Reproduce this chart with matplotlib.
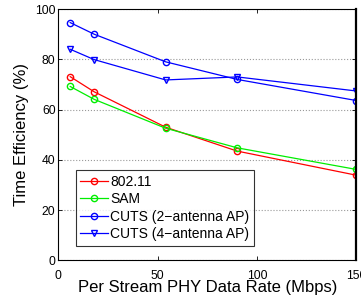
import matplotlib
matplotlib.use('Agg')
import matplotlib.pyplot as plt

rates = [6, 18, 54, 90, 150]
eff_80211 = [73.1, 67.1, 53.0, 43.5, 33.9]
eff_sam = [69.2, 64.1, 52.6, 44.8, 36.2]
eff_cuts2 = [94.6, 90.0, 79.0, 72.0, 63.6]
eff_cuts4 = [84.0, 79.9, 71.8, 73.0, 67.4]

plt.rcParams['font.family'] = ['Liberation Sans', 'DejaVu Sans']

fig = plt.figure(figsize=(3.61, 3.01), dpi=100)
ax = fig.add_axes([0.1615, 0.1346, 0.826, 0.8354])

ax.plot(rates, eff_80211, color='#ff0000', marker='o', mfc='none',
        ms=4.5, lw=0.9, label='802.11')
ax.plot(rates, eff_sam, color='#00ee00', marker='o', mfc='none',
        ms=4.5, lw=0.9, label='SAM')
ax.plot(rates, eff_cuts2, color='#0000ff', marker='o', mfc='none',
        ms=4.5, lw=0.9, label='CUTS (2\u2212antenna AP)')
ax.plot(rates, eff_cuts4, color='#0000ff', marker='v', mfc='none',
        ms=5, lw=0.9, label='CUTS (4\u2212antenna AP)')

ax.set_xlim(0, 150)
ax.set_ylim(0, 100)
ax.set_xticks([0, 50, 100, 150])
ax.set_yticks([0, 20, 40, 60, 80, 100])
ax.yaxis.grid(True, color='#999999', linestyle=':', linewidth=0.8)
ax.tick_params(direction='in', top=True, right=True, labelsize=8.7,
               length=3, width=0.6)
ax.tick_params(axis='x', pad=6.5)
ax.tick_params(axis='y', pad=2)
for s in ax.spines.values():
    s.set_linewidth(0.8)
ax.spines['right'].set_linewidth(1.6)

ax.set_xlabel('Per Stream PHY Data Rate (Mbps)', fontsize=12, labelpad=-1)
ax.set_ylabel('Time Efficiency (%)', fontsize=12, labelpad=4)

leg = ax.legend(loc='lower left', bbox_to_anchor=(0.058, 0.058), fontsize=10,
                frameon=True, fancybox=False, edgecolor='black',
                handlelength=2.0, handletextpad=0.15, borderpad=0.35,
                labelspacing=0.25, borderaxespad=0)
leg.get_frame().set_linewidth(0.8)

fig.savefig('out.png', dpi=100)
